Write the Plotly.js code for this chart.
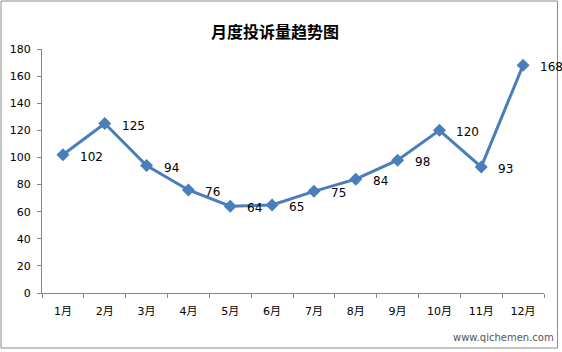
<!DOCTYPE html>
<html><head><meta charset="utf-8">
<script src="https://cdn.plot.ly/plotly-3.0.1.min.js"></script>
<style>html,body{margin:0;padding:0;background:#fff}#c{width:562px;height:352px}</style>
</head><body><div id="c"></div>
<script>
const months = ['1月','2月','3月','4月','5月','6月','7月','8月','9月','10月','11月','12月'];
const complaints = [102,125,94,76,64,65,75,84,98,120,93,168];
const yTicks = [0,20,40,60,80,100,120,140,160,180];

const W=562,H=352,L=42,R=18,T=49,B=59;
const pw=W-L-R, ph=H-T-B;
const px=x=>(x-L)/pw, py=y=>(H-B-y)/ph;

const trace = {
  x: months, y: complaints, type:'scatter', mode:'lines+markers',
  line:{color:'#4a7ebb', width:3},
  marker:{symbol:'diamond', size:10, color:'#4a7ebb'},
  cliponaxis:false, hoverinfo:'none'
};
const labels = months.map((m,i)=>({
  x:m, y:complaints[i], xref:'x', yref:'y', text:String(complaints[i]), showarrow:false,
  xanchor:'left', yanchor:'middle', xshift:15, yshift:-2,
  font:{family:'DejaVu Sans, Verdana, sans-serif', size:12, color:'#000'}
}));
const layout = {
  width:W, height:H, margin:{l:L,r:R,t:T,b:B},
  paper_bgcolor:'#fff', plot_bgcolor:'#fff', showlegend:false,
  font:{family:'DejaVu Sans, "Noto Sans CJK SC", sans-serif', size:11, color:'#000'},
  title:{text:'<b>月度投诉量趋势图</b>', x:275/W, xref:'container', xanchor:'center', y:1-32/H, yanchor:'middle',
         font:{family:'"Noto Sans CJK SC", sans-serif', size:16, color:'#000'}},
  xaxis:{type:'category', range:[-0.5,11.5], autorange:false, showgrid:false, zeroline:false, showline:true, linecolor:'#868686', linewidth:1,
         ticks:'outside', ticklen:4, tickcolor:'#868686', tickson:'boundaries', ticklabelstandoff:8,
         tickfont:{family:'DejaVu Sans, "Noto Sans CJK SC", sans-serif', size:11}, fixedrange:true},
  yaxis:{range:[0,180], autorange:false, tickvals:yTicks, showgrid:false, zeroline:false, showline:true, linecolor:'#868686', linewidth:1,
         ticks:'outside', ticklen:4, tickcolor:'#868686', ticklabelstandoff:4,
         tickfont:{family:'DejaVu Sans, sans-serif', size:11}, fixedrange:true},
  shapes:[{type:'rect', xref:'paper', yref:'paper', x0:px(1), x1:px(557.5), y0:py(348), y1:py(1),
           line:{color:'#8c8c8c', width:1}, fillcolor:'rgba(0,0,0,0)', layer:'below'}],
  annotations:labels.concat([{text:'www.qichemen.com', xref:'paper', yref:'paper', x:px(503), y:py(337), xanchor:'center', yanchor:'middle', showarrow:false,
                font:{family:'DejaVu Sans, sans-serif', size:10, color:'#555'}}])
};
Plotly.newPlot('c',[trace],layout,{staticPlot:true,displayModeBar:false});
</script></body></html>
